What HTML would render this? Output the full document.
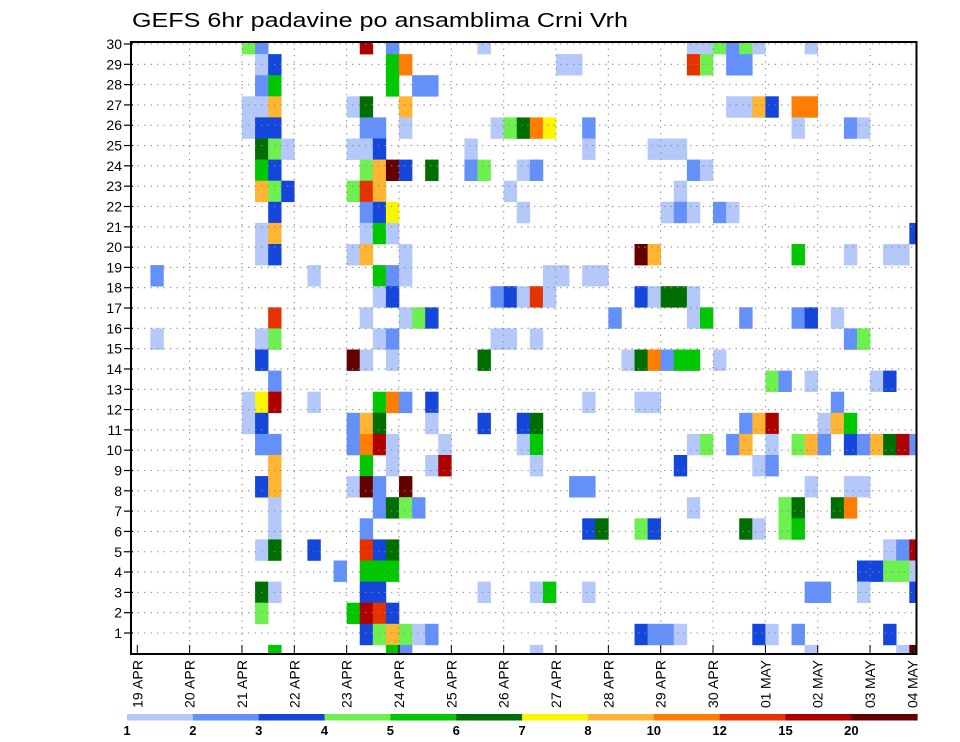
<!DOCTYPE html>
<html><head><meta charset="utf-8"><title>GEFS 6hr padavine</title>
<style>html,body{margin:0;padding:0;background:#fff}svg{display:block;font-family:"Liberation Sans",sans-serif}</style>
</head><body>
<svg id="chart" width="960" height="742" viewBox="0 0 960 742" xmlns="http://www.w3.org/2000/svg">
<text x="132" y="27" font-size="20" textLength="496" lengthAdjust="spacingAndGlyphs">GEFS 6hr padavine po ansamblima Crni Vrh</text>
<defs><clipPath id="plotclip"><rect x="131" y="42" width="785.5" height="612"/></clipPath></defs>
<g id="cells" clip-path="url(#plotclip)"></g>
<g id="grid"></g>
<rect x="131" y="42" width="785.5" height="612" fill="none" stroke="#000" stroke-width="2"/>
<g id="yaxis"></g>
<g id="xaxis"></g>
<g id="colorbar"></g>
</svg>
<script>
const levels = [1,2,3,4,5,6,7,8,10,12,15,20];
const levelColors = ["#b4c8fa","#6490fa","#1446dc","#6ef050","#00c800","#006e00","#faf500","#ffb432","#ff7d00","#e63200","#af0000","#640000"];
const dayLabels = ["19 APR","20 APR","21 APR","22 APR","23 APR","24 APR","25 APR","26 APR","27 APR","28 APR","29 APR","30 APR","01 MAY","02 MAY","03 MAY","04 MAY"];
const memberTicks = [1,2,3,4,5,6,7,8,9,10,11,12,13,14,15,16,17,18,19,20,21,22,23,24,25,26,27,28,29,30];
const members = [30,29,28,27,26,25,24,23,22,21,20,19,18,17,16,15,14,13,12,11,10,9,8,7,6,5,4,3,2,1];
const steps = [
[8,9,17,19,26,42,43,44,45,46,47,51],
[9,10,19,20,32,33,42,43,45,46],
[9,10,19,21,22],
[8,9,10,16,17,20,45,46,47,48,50,51],
[8,9,10,17,18,20,27,28,29,30,31,34,50,54,55],
[9,10,11,16,17,18,25,34,39,40,41],
[9,10,17,18,19,20,22,25,26,29,30,42,43],
[9,10,11,16,17,18,28,41],
[10,17,18,19,29,40,41,42,44,45],
[9,10,17,18,19,59],
[9,10,16,17,20,38,39,50,54,57,58],
[1,13,18,19,20,31,32,34,35],
[18,19,27,28,29,30,31,38,39,40,41,42],
[10,17,20,21,22,36,42,43,46,50,51,53],
[1,9,10,18,19,27,28,30,54,55],
[9,16,17,19,26,37,38,39,40,41,42,44],
[10,48,49,51,56,57],
[8,9,10,13,18,19,20,22,34,38,39,53],
[8,9,16,17,18,22,26,29,30,46,47,48,52,53,54],
[9,10,16,17,18,19,23,29,30,42,43,45,46,48,50,51,52,54,55,56,57,58,59],
[10,17,19,22,23,30,41,47,48],
[9,10,16,17,18,20,33,34,51,54,55],
[10,18,19,20,21,42,49,50,53,54],
[10,17,34,35,38,39,46,47,49,50],
[9,10,13,17,18,19,57,58,59],
[15,17,18,19,55,56,57,58,59],
[9,10,17,18,26,30,31,34,51,52,55,59],
[9,16,17,18,19],
[17,18,19,20,21,22,38,39,40,41,47,48,50,57],
[10,19,20,30,51,58,59]
];
const precip = [
[4.5,2.5,17,2.5,1.5,1.5,1.5,4.5,2.5,4.5,1.5,1.5],
[1.5,3.5,5.5,11,1.5,1.5,13.5,4.5,2.5,2.5],
[2.5,5.5,5.5,2.5,2.5],
[1.5,1.5,9,1.5,6.5,9,1.5,1.5,9,3.5,11,11],
[1.5,3.5,3.5,2.5,2.5,1.5,1.5,4.5,6.5,11,7.5,2.5,1.5,2.5,1.5],
[6.5,4.5,1.5,1.5,1.5,3.5,1.5,1.5,1.5,1.5,1.5],
[5.5,3.5,4.5,9,22,3.5,6.5,2.5,4.5,1.5,2.5,2.5,1.5],
[9,4.5,3.5,4.5,13.5,9,1.5,1.5],
[3.5,2.5,3.5,7.5,1.5,1.5,2.5,1.5,2.5,1.5],
[1.5,9,1.5,5.5,1.5,3.5],
[1.5,3.5,1.5,9,1.5,22,9,5.5,1.5,1.5,1.5],
[2.5,1.5,5.5,2.5,1.5,1.5,1.5,1.5,1.5],
[1.5,3.5,2.5,3.5,1.5,13.5,1.5,3.5,1.5,6.5,6.5,1.5],
[13.5,1.5,1.5,4.5,3.5,2.5,1.5,5.5,2.5,2.5,3.5,1.5],
[1.5,1.5,4.5,1.5,2.5,1.5,1.5,1.5,2.5,4.5],
[3.5,22,1.5,1.5,6.5,1.5,6.5,11,2.5,5.5,5.5,1.5],
[2.5,4.5,2.5,1.5,1.5,3.5],
[1.5,7.5,17,1.5,5.5,11,2.5,3.5,1.5,1.5,1.5,2.5],
[1.5,3.5,2.5,9,6.5,1.5,3.5,3.5,6.5,2.5,9,17,1.5,9,5.5],
[2.5,2.5,2.5,11,17,1.5,1.5,1.5,5.5,1.5,4.5,2.5,9,1.5,4.5,9,2.5,3.5,2.5,9,6.5,17,2.5],
[9,5.5,1.5,1.5,17,1.5,3.5,1.5,2.5],
[3.5,9,1.5,22,2.5,22,2.5,2.5,1.5,1.5,1.5],
[1.5,2.5,6.5,4.5,2.5,1.5,4.5,6.5,6.5,11],
[1.5,2.5,3.5,6.5,4.5,3.5,6.5,1.5,4.5,5.5],
[1.5,6.5,3.5,13.5,3.5,6.5,1.5,2.5,17],
[2.5,5.5,5.5,5.5,3.5,3.5,4.5,4.5,1.5],
[6.5,1.5,3.5,3.5,1.5,1.5,5.5,1.5,2.5,2.5,1.5,3.5],
[4.5,5.5,17,13.5,3.5],
[3.5,4.5,9,4.5,1.5,2.5,3.5,2.5,2.5,1.5,3.5,1.5,2.5,3.5],
[5.5,5.5,2.5,1.5,1.5,1.5,22]
];

const NS = "http://www.w3.org/2000/svg";
const X0 = 137.3, STEP_W = 13.085, DAY_W = 52.34;
const CELL_TOP0 = 33, CELL_H = 21.1;
const LINE_Y30 = 44, LINE_H = 20.31;
function xStep(t){ return X0 + STEP_W * t; }
function xDay(d){ return X0 + DAY_W * d; }
function yCellTop(m){ return CELL_TOP0 + (30 - m) * CELL_H; }
function yTick(k){ return LINE_Y30 + (30 - k) * LINE_H; }
function colorFor(v){
  let idx = -1;
  for (let i = 0; i < levels.length; i++) if (v >= levels[i]) idx = i;
  return idx < 0 ? null : levelColors[idx];
}
function mk(tag, attrs, parent){
  const el = document.createElementNS(NS, tag);
  for (const k in attrs) el.setAttribute(k, attrs[k]);
  parent.appendChild(el);
  return el;
}

// cells
const cellsG = document.getElementById("cells");
members.forEach((m, i) => {
  steps[i].forEach((t, j) => {
    const c = colorFor(precip[i][j]);
    if (!c) return;
    const r = mk("rect", {x: xStep(t), y: yCellTop(m), width: STEP_W + 0.3, height: CELL_H + 0.3, fill: c}, cellsG);
    
    
  });
});

// grid
const gridG = document.getElementById("grid");
for (let d = 1; d < dayLabels.length - 1; d++) {
  const l = mk("line", {x1: xDay(d), x2: xDay(d), y1: 42, y2: 654, stroke: "#8a8a8a", "stroke-width": 1.1, "stroke-dasharray": "1.3 5.2"}, gridG);
  
  
}
memberTicks.forEach(k => {
  const l = mk("line", {x1: 131, x2: 916, y1: yTick(k), y2: yTick(k), stroke: "#8a8a8a", "stroke-width": 1.1, "stroke-dasharray": "1.3 5.2"}, gridG);
  
  
});

// y axis
const yG = document.getElementById("yaxis");
memberTicks.forEach(k => {
  const tk = mk("line", {x1: 124, x2: 133, y1: yTick(k), y2: yTick(k), stroke: "#000", "stroke-width": 1.2}, yG);
  
  
  const tx = mk("text", {x: 122, y: yTick(k) + 5, "font-size": 14, "text-anchor": "end"}, yG);
  tx.textContent = String(k);
  
  
});

// x axis
const xG = document.getElementById("xaxis");
dayLabels.forEach((lab, d) => {
  let x = xDay(d);
  if (d === dayLabels.length - 1) x = 912.5;
  const tk = mk("line", {x1: x, x2: x, y1: 645, y2: 655, stroke: "#000", "stroke-width": 1}, xG);
  
  
  const tx = mk("text", {x: 0, y: 0, "font-size": 14, transform: "translate(" + (x + 5) + ",708) rotate(-90)", textLength: 48, lengthAdjust: "spacing"}, xG);
  tx.textContent = lab;
  
  
});

// colorbar
const cbG = document.getElementById("colorbar");
const CB_X0 = 127, CB_W = 65.85;
levelColors.forEach((c, i) => {
  const r = mk("rect", {x: CB_X0 + CB_W * i, y: 714, width: CB_W + 0.4, height: 6.5, fill: c}, cbG);
  
  
});
levels.forEach((v, i) => {
  const t = mk("text", {x: CB_X0 + CB_W * i, y: 735, "font-size": 13, "font-weight": "bold", "text-anchor": "middle"}, cbG);
  t.textContent = String(v);
  
  
});
</script>
</body></html>
